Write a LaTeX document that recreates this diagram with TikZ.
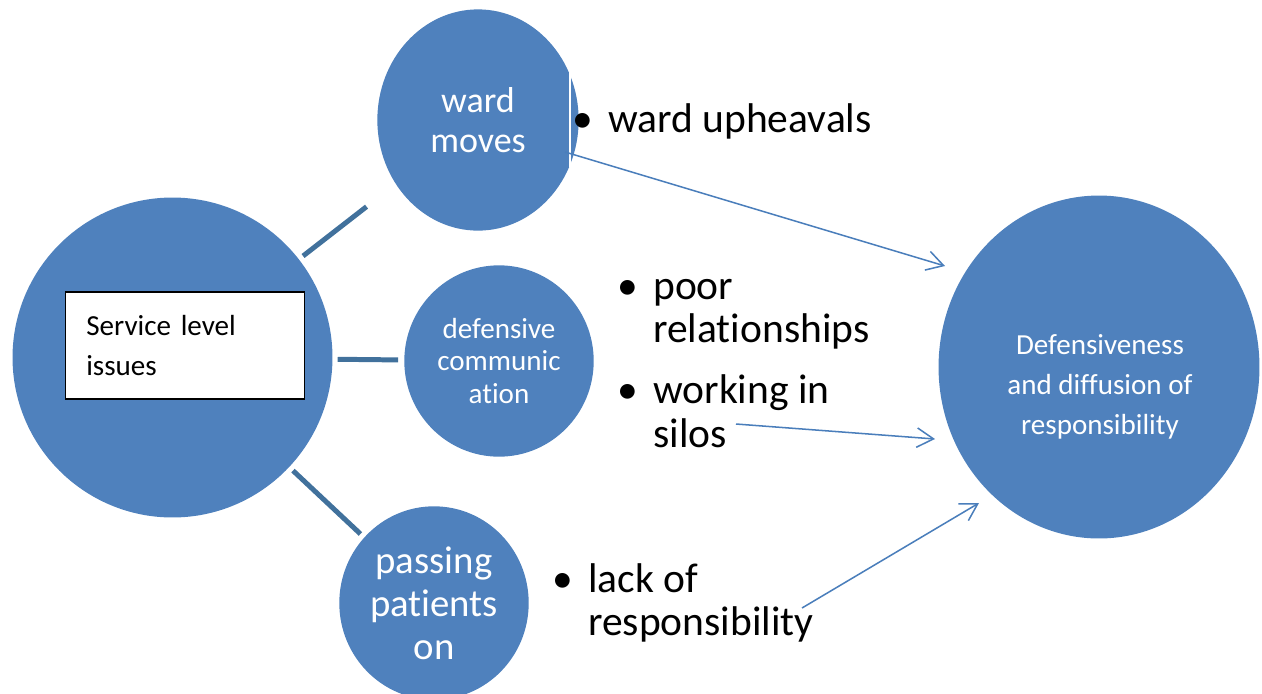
\documentclass[tikz,border=0pt]{standalone}
\usepackage{fontspec}
\setmainfont{Carlito}[Ligatures=NoCommon]
\usetikzlibrary{arrows.meta,shapes.geometric}

\definecolor{bubble}{HTML}{4F81BD}
\definecolor{linkblue}{HTML}{41719C}
\definecolor{arrowblue}{HTML}{4A7EBB}
\newcommand{\bul}{\llap{\makebox[37pt]{\textbullet}}}

\begin{document}
\begin{tikzpicture}[x=0.01in,y=-0.01in,
                    blob/.style={ellipse,fill=bubble,inner sep=0pt,text=white,align=center},
                    link/.style={draw=linkblue,line width=3.6pt},
                    push/.style={-{Straight Barb[length=12pt,width=14pt]},draw=arrowblue,line width=1.1pt},
                    items/.style={anchor=base west,inner sep=0pt,font=\fontsize{30}{31.7}\selectfont}]

\useasboundingbox (0,0) rectangle (1262,693);

\node[blob,minimum width=231.1pt,minimum height=231.1pt] (service) at (172.5,357.5) {};
\node[blob,minimum width=145.4pt,minimum height=159.8pt,font=\fontsize{26}{29}\selectfont] (ward) at (478,120) {ward\\moves};
\node[blob,minimum width=136.8pt,minimum height=138.2pt,font=\fontsize{21}{23.4}\selectfont] (defensive) at (499,361) {defensive\\communic\\ation};
\node[blob,minimum width=136.8pt,minimum height=139.7pt,font=\fontsize{28}{31}\selectfont] (passing) at (434,603) {passing\\patients\\on};
\node[blob,minimum width=231.8pt,minimum height=247.7pt] (result) at (1099,367) {};
\node[text=white,align=center,font=\fontsize{21}{29}\selectfont] (resulttext) at (1100,387) {Defensiveness\\and diffusion of\\responsibility};

\node[draw=black,fill=white,line width=1.1pt,minimum width=172.8pt,minimum height=77pt,
      text width=142.6pt,inner xsep=15.1pt,align=left,font=\fontsize{21}{29.5}\selectfont] (issues) at (185,345.5) {Service level\\issues};

\draw[link,shorten <=3.7pt,shorten >=26.6pt] (service) -- (ward);
\draw[link,shorten <=3.6pt,shorten >=4.3pt] (service) -- (defensive);
\draw[link,shorten <=3.6pt,shorten >=3.6pt] (service) -- (passing);

\draw[white,line width=1.1pt] (570,70) -- (570,167);

\node[items] (upheavals) at (608,132) {\bul ward upheavals};
\node[items] (silos) at (653,299) {\begin{tabular}[t]{@{}l@{}}\bul poor\\relationships\\[12pt]\bul working in\\silos\end{tabular}};
\node[items] (lack) at (588,592) {\begin{tabular}[t]{@{}l@{}}\bul lack of\\responsibility\end{tabular}};

\coordinate (upheavalsout) at (565,152);
\coordinate (silosout) at (736,424);
\coordinate (lackout) at (802,608);
\coordinate (resultinA) at (945,266);
\coordinate (resultinB) at (935,439);
\coordinate (resultinC) at (979,503);

\draw[push] (upheavalsout) -- (resultinA);
\draw[push] (silosout) -- (resultinB);
\draw[push] (lackout) -- (resultinC);

\end{tikzpicture}
\end{document}
